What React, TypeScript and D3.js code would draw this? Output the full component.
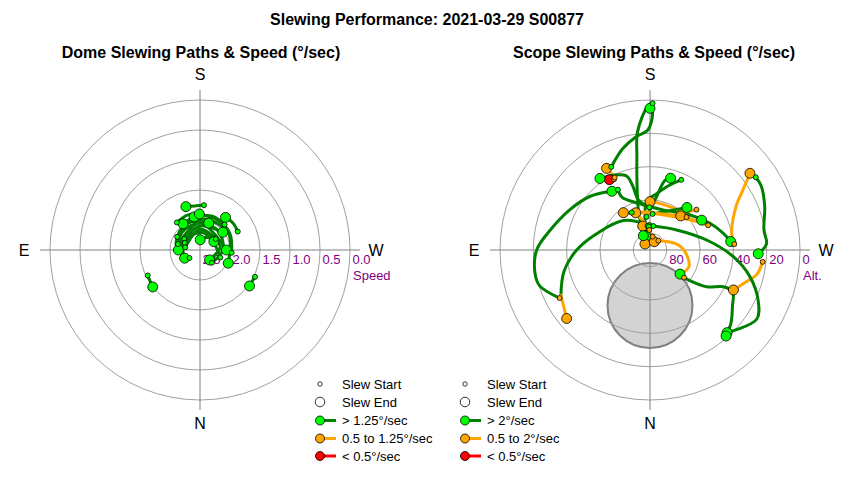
import React from "react";
import * as d3 from "d3";

// point = [azimuth (deg), value (speed or altitude), speed tier of the segment ending here]
// tier: 0 = fast, 1 = medium, 2 = slow
type Pt = [number, number, number?];
interface Slew {
    s: number; // tier of start marker
    e: number; // tier of end marker
    p: Pt[];
}

const chartTitle = "Slewing Performance: 2021-03-29 S00877";
const domeTitle = "Dome Slewing Paths & Speed (°/sec)";
const scopeTitle = "Scope Slewing Paths & Speed (°/sec)";

const speedTicks = [2.5, 2.0, 1.5, 1.0, 0.5, 0.0];
const altTicks = [80, 60, 40, 20, 0];
const compass = [
    { label: "S", az: 180 },
    { label: "W", az: 270 },
    { label: "N", az: 0 },
    { label: "E", az: 90 },
];

const domeLegend = ["Slew Start", "Slew End", "> 1.25°/sec", "0.5 to 1.25°/sec", "< 0.5°/sec"];
const scopeLegend = ["Slew Start", "Slew End", "> 2°/sec", "0.5 to 2°/sec", "< 0.5°/sec"];

// dome slews: azimuth vs speed (°/sec)
const domeSlews: Slew[] = [
    { s: 0, e: 0, p: [[185, 1.75], [173, 1.76], [162, 1.74]] },
    { s: 0, e: 0, p: [[244, 1.8], [231, 1.79], [218, 1.81]] },
    { s: 0, e: 0, p: [[64, 1.53], [52, 1.5]] },
    { s: 0, e: 0, p: [[296, 1.48], [306, 1.48]] },
    { s: 0, e: 0, p: [[224, 1.91], [200, 1.9], [170, 1.94]] },
    { s: 0, e: 0, p: [[275, 1.97], [240, 1.93], [205, 1.92], [175, 1.93], [147, 1.98]] },
    { s: 0, e: 0, p: [[317, 2.21], [270, 2.12], [225, 2.06], [180, 2.05], [135, 2.08], [90, 2.14]] },
    { s: 0, e: 0, p: [[53, 2.28], [100, 2.1], [145, 2.02], [190, 1.98], [240, 1.95], [295, 1.98]] },
    { s: 0, e: 0, p: [[120, 2.06], [158, 2.0], [198, 2.03]] },
    { s: 0, e: 0, p: [[125, 2.18], [180, 2.1], [232, 2.02]] },
    { s: 0, e: 0, p: [[235, 2.18], [205, 2.27], [181, 2.33]] },
    { s: 0, e: 0, p: [[115, 2.22], [175, 2.18], [239, 2.23]] },
    { s: 0, e: 0, p: [[100, 2.25], [180, 2.15], [260, 2.16], [316, 2.27]] },
    { s: 0, e: 0, p: [[105, 2.12], [180, 2.04], [270, 2.06]] },
    { s: 0, e: 0, p: [[290, 2.14], [200, 2.2], [120, 2.18], [62, 2.21]] },
    { s: 0, e: 0, p: [[140, 1.9], [160, 1.88], [179, 1.9]] },
];

// scope slews: azimuth vs altitude (deg)
const scopeSlews: Slew[] = [
    { s: 0, e: 0, p: [[155, 35], [165, 27], [173, 21.5], [179, 18], [181, 7], [180, 5]] },
    { s: 0, e: 1, p: [[181, 2], [179, 4], [174, 18.6], [172, 33.4], [168, 53], [162, 69], [163, 75]] },
    { s: 1, e: 1, p: [[153, 42.4, 1], [153, 37.2, 1], [152, 34.5, 1]] },
    { s: 1, e: 2, p: [[154, 41.6, 1], [150, 41.3, 1]] },
    { s: 0, e: 0, p: [[179, 64.4], [167, 59.2], [165, 50.7], [162.5, 43.4], [155, 40.3], [145, 37.6]] },
    { s: 0, e: 0, p: [[152, 49], [152, 54], [164, 60.5], [198, 64.7], [229, 58], [246, 50.6], [257, 45], [264, 41.3]] },
    { s: 1, e: 0, p: [[62, 28.6], [72, 20.4], [78.5, 19.6], [90, 22], [101, 28.8], [117, 36.3], [132, 41.8], [147, 48]] },
    { s: 0, e: 1, p: [[178.5, 75], [138, 66.2], [107, 56.5], [90, 46], [76, 36.8], [63, 30], [50.6, 25.3, 1]] },
    { s: 1, e: 1, p: [[266, 39.3], [258.5, 40, 1], [243, 32, 1], [237, 23.4, 1], [232.5, 14.4, 1]] },
    { s: 0, e: 0, p: [[235.5, 13], [240, 13], [249, 16.3], [260, 20.6], [267, 20], [272, 25]] },
    { s: 1, e: 1, p: [[276, 22], [283, 24.3, 1], [288, 29, 1], [295.6, 34.5, 1]] },
    { s: 0, e: 0, p: [[188, 75.5], [233, 70], [260, 55.5], [274.6, 39.8], [285, 27.9], [295, 18.4], [303, 13.7], [317, 22.2]] },
    { s: 1, e: 0, p: [[309, 63.7], [307.5, 59.8], [303, 49.5], [296.6, 40.8], [296.7, 34.5], [304.5, 30], [312, 24.6], [318.5, 21.1]] },
    { s: 1, e: 0, p: [[221.8, 82.5], [257.3, 73.6, 1], [272.7, 69, 1], [293.1, 64.6, 1], [308.7, 66.9, 1]] },
    { s: 0, e: 0, p: [[204, 43.9], [197, 49.2], [187, 55.8], [176, 60.9], [171.5, 69.8], [164, 81.3]] },
    { s: 0, e: 0, p: [[174, 70], [187, 57.8], [192, 47.4], [196, 45.2]] },
    { s: 1, e: 1, p: [[229, 53.1], [221, 59.7, 1], [205, 61.4, 1], [188, 61.3, 1], [180, 61, 1]] },
    { s: 0, e: 0, p: [[184, 68.3], [207, 63.5], [221, 56.2]] },
    { s: 0, e: 1, p: [[154, 65], [175, 67.1, 1], [200, 67, 1], [222, 62.5, 1]] },
    { s: 1, e: 0, p: [[228, 60.5], [238, 57, 1], [240, 54.2, 1]] },
    { s: 1, e: 1, p: [[247, 52.1], [233, 60, 1], [210.5, 66.3, 1], [180, 68, 1], [159, 66.1, 1]] },
    { s: 0, e: 1, p: [[174, 75.5], [159, 67.5, 1], [144.5, 62.5, 1]] },
    { s: 1, e: 1, p: [[191, 81.8], [140, 85.3, 1]] },
    { s: 0, e: 0, p: [[177, 76], [155, 80.5]] },
    { s: 1, e: 1, p: [[178, 78], [207.5, 84.4, 1]] },
];

// region the scope can't reach (drawn as grey disk)
const blockedZone = { az: 0, alt: 56.7, radius: 25.5 };

const lineColor = ["#008000", "#FFA500", "#FF0000"];
const fillColor = ["#00FF00", "#FFA500", "#FF0000"];

const R = 150;
const FONT = "'Liberation Sans', Arial, sans-serif";
const rad = (deg: number) => (deg * Math.PI) / 180;
const toXY = (az: number, r: number): [number, number] => [-r * Math.sin(rad(az)), r * Math.cos(rad(az))];

// split a path in runs of equal speed tier
function runs(pts: Pt[]) {
    const out: { tier: number; pts: Pt[] }[] = [];
    let tier = pts[1]?.[2] ?? 0;
    let cur: Pt[] = [pts[0]];
    for (let i = 1; i < pts.length; i++) {
        const t = pts[i][2] ?? 0;
        if (t !== tier) {
            out.push({ tier, pts: cur });
            cur = [pts[i - 1]];
            tier = t;
        }
        cur.push(pts[i]);
    }
    out.push({ tier, pts: cur });
    return out;
}

interface PanelProps {
    cx: number;
    cy: number;
    titleX: number;
    title: string;
    rScale: d3.ScaleLinear<number, number>;
    ticks: number[];
    fmt: (v: number) => string;
    axisName: string;
    slews: Slew[];
    legend: string[];
    legendX: number;
    blocked?: { az: number; alt: number; radius: number };
}

const PolarPanel: React.FC<PanelProps> = ({ cx, cy, titleX, title, rScale, ticks, fmt, axisName, slews, legend, legendX, blocked }) => {
    const line = d3
        .lineRadial<Pt>()
        .angle(d => rad(d[0] + 180))
        .radius(d => rScale(d[1]))
        .curve(d3.curveCatmullRom.alpha(0.5));

    const rings = ticks.map(t => rScale(t)).filter(r => r > 0.5);
    const legendY = [384, 402, 420.5, 438.5, 456];

    let disk = null;
    if (blocked) {
        const [bx, by] = toXY(blocked.az, rScale(blocked.alt));
        const br = rScale(90 - blocked.radius);
        disk = <circle cx={bx} cy={by} r={br} fill="#d3d3d3" stroke="#808080" strokeWidth={2} />;
    }

    return (
        <g fontFamily={FONT}>
            <text x={titleX} y={58} textAnchor="middle" fontSize={16} fontWeight="bold">{title}</text>
            <g transform={`translate(${cx},${cy})`}>
                {disk}
                {rings.map((r, i) => (
                    <circle key={i} r={r} fill="none" stroke="#a0a0a0" strokeWidth={1} />
                ))}
                <line x1={-R - 10} x2={R + 10} y1={0} y2={0} stroke="#808080" />
                <line y1={-R - 10} y2={R + 10} x1={0} x2={0} stroke="#808080" />
                {compass.map(c => {
                    const [x, y] = toXY(c.az, c.az === 0 ? 173 : 176);
                    return (
                        <text key={c.label} x={x} y={y} dy="0.36em" textAnchor="middle" fontSize={16}>{c.label}</text>
                    );
                })}
                {ticks.map(t => (
                    <text key={t} x={rScale(t) + 2.5} y={14} fontSize={13} fill="#800080">{fmt(t)}</text>
                ))}
                <text x={R + 3} y={30} fontSize={13} fill="#800080">{axisName}</text>

                {slews.map((s, i) =>
                    runs(s.p).map((run, j) => (
                        <path key={`${i}-${j}`} d={line(run.pts) ?? ""} fill="none" stroke={lineColor[run.tier]}
                            strokeWidth={3} strokeLinejoin="round" strokeLinecap="round" />
                    ))
                )}
                {slews.map((s, i) => {
                    const last = s.p[s.p.length - 1];
                    const [x, y] = toXY(last[0], rScale(last[1]));
                    return <circle key={`e${i}`} cx={x} cy={y} r={5} fill={fillColor[s.e]} stroke="#000" strokeWidth={0.8} />;
                })}
                {slews.map((s, i) => {
                    const [x, y] = toXY(s.p[0][0], rScale(s.p[0][1]));
                    return <circle key={`s${i}`} cx={x} cy={y} r={2.5} fill={fillColor[s.s]} stroke="#000" strokeWidth={0.8} />;
                })}
            </g>

            <g transform={`translate(${legendX},0)`}>
                <circle cx={0} cy={legendY[0]} r={2.2} fill="#fff" stroke="#000" strokeWidth={0.8} />
                <circle cx={0} cy={legendY[1]} r={4.8} fill="#fff" stroke="#000" strokeWidth={0.8} />
                {[0, 1, 2].map(t => (
                    <g key={t}>
                        <line x1={0} x2={16} y1={legendY[t + 2]} y2={legendY[t + 2]} stroke={lineColor[t]} strokeWidth={3} />
                        <circle cx={0} cy={legendY[t + 2]} r={4.5} fill={fillColor[t]} stroke="#000" strokeWidth={0.8} />
                    </g>
                ))}
                {legend.map((l, i) => (
                    <text key={l} x={22} y={legendY[i]} dy="0.36em" fontSize={13}>{l}</text>
                ))}
            </g>
        </g>
    );
};

export default function App() {
    const speedR = d3.scaleLinear().domain([2.5, 0]).range([0, R]);
    const altR = d3.scaleLinear().domain([90, 0]).range([0, R]);

    return (
        <svg width={850} height={480} style={{ position: "absolute", left: 0, top: 0, background: "#fff" }}>
            <text x={427} y={25} textAnchor="middle" fontSize={16} fontWeight="bold" fontFamily={FONT}>{chartTitle}</text>
            <PolarPanel cx={200} cy={250} titleX={201} title={domeTitle} rScale={speedR} ticks={speedTicks}
                fmt={d3.format(".1f")} axisName="Speed" slews={domeSlews} legend={domeLegend} legendX={320} />
            <PolarPanel cx={650} cy={250} titleX={654} title={scopeTitle} rScale={altR} ticks={altTicks}
                fmt={d3.format("d")} axisName="Alt." slews={scopeSlews} legend={scopeLegend} legendX={465}
                blocked={blockedZone} />
        </svg>
    );
}
